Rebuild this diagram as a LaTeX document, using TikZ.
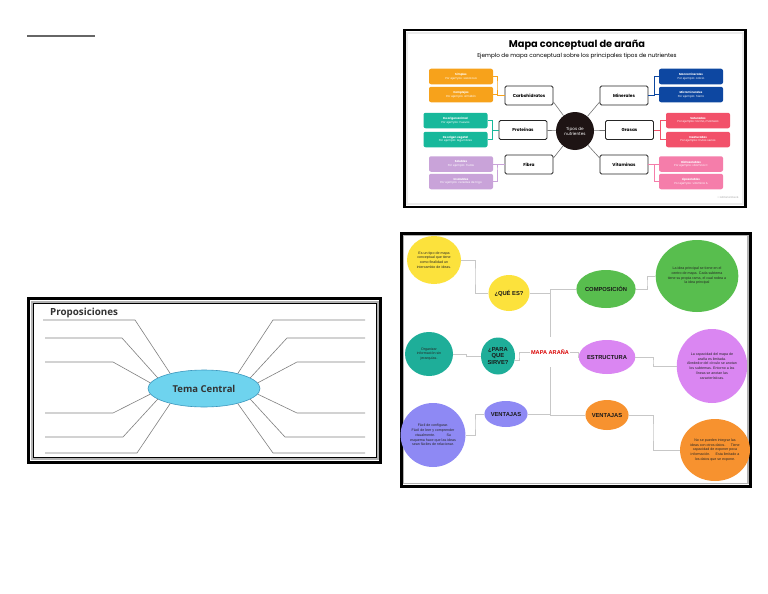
\documentclass[tikz,border=0pt]{standalone}
\usepackage{fontspec}
\setmainfont{Liberation Sans}
\newfontfamily\pop{Poppins}
\newfontfamily\opn{Open Sans}
\usetikzlibrary{shapes.geometric,calc}
\definecolor{orN}{HTML}{F7A21B}
\definecolor{teN}{HTML}{17B89B}
\definecolor{liN}{HTML}{C9A3D9}
\definecolor{blN}{HTML}{0D47A1}
\definecolor{reN}{HTML}{F2516A}
\definecolor{piN}{HTML}{F57DAA}
\definecolor{dkN}{HTML}{1E1414}
\definecolor{yelS}{HTML}{FCE23C}
\definecolor{grnS}{HTML}{58BE4E}
\definecolor{teaS}{HTML}{1EAE99}
\definecolor{purS}{HTML}{DA86F2}
\definecolor{vioS}{HTML}{8E89F4}
\definecolor{orgS}{HTML}{F7922F}
\definecolor{cyT}{HTML}{6ED3EE}
\definecolor{cyB}{HTML}{3B97BE}
\tikzset{
  nbox/.style={draw=black!85, line width=0.9pt, rounded corners=1.5pt, fill=white, minimum width=48pt, minimum height=19pt, inner sep=0pt, font=\pop\bfseries\fontsize{4.3}{5}\selectfont},
  sbox/.style={rounded corners=2pt, minimum width=64pt, minimum height=15.5pt, inner sep=0pt, text=white, align=center, font=\pop\fontsize{2.8}{3.5}\selectfont},
  nline/.style={draw=black!55, line width=0.6pt},
  brk/.style={line width=0.5pt},
  blob/.style={ellipse, inner sep=0pt, align=center, text=black!85},
  btitle/.style={font=\bfseries\fontsize{5.8}{6.8}\selectfont, text=black!90},
  btext/.style={font=\fontsize{3.6}{4.7}\selectfont},
  conn/.style={draw=black!22, line width=0.8pt},
  pline/.style={draw=black!50, line width=0.6pt}
}
\begin{document}
\begin{tikzpicture}[x=1pt,y=-1pt]
\useasboundingbox (0,0) rectangle (768,594);
\fill[white] (0,0) rectangle (768,594);

% short line top-left
\coordinate (t1) at (27,36);
\coordinate (t2) at (95,36);
\draw[black!60, line width=1.3pt] (t1) -- (t2);

% ================= nutrient panel =================
\draw[black!8, line width=2pt] (407,33) rectangle (743,204);
\draw[black, line width=2.5pt] (404.5,30) rectangle (745.5,207);
\node (ttl) at (577,45) {\pop\bfseries\fontsize{9.8}{11}\selectfont Mapa conceptual de araña};
\node (sub) at (577,56.5) {\pop\fontsize{5.7}{7}\selectfont Ejemplo de mapa conceptual sobre los principales tipos de nutrientes};

\node[circle, fill=dkN, minimum size=38pt, inner sep=0pt, text=white, align=center, font=\pop\fontsize{4.2}{5}\selectfont] (tipos) at (575,131) {Tipos de\\nutrientes};

\node[nbox] (carb) at (529,95.5) {Carbohidratos};
\node[nbox] (prot) at (523,130) {Proteínas};
\node[nbox] (fibra) at (529,164.5) {Fibra};
\node[nbox] (mine) at (624,95.5) {Minerales};
\node[nbox] (gras) at (629.5,130) {Grasas};
\node[nbox] (vita) at (624,164.5) {Vitaminas};

\draw[nline] (carb.-15) -- (tipos);
\draw[nline] (prot) -- (tipos);
\draw[nline] (fibra.15) -- (tipos);
\draw[nline] (mine.195) -- (tipos);
\draw[nline] (gras) -- (tipos);
\draw[nline] (vita.165) -- (tipos);

\node[sbox, fill=orN] (simp) at (461,76.5) {\textbf{Simples}\\Por ejemplo: sacarosa};
\node[sbox, fill=orN] (comp) at (461,94.5) {\textbf{Complejos}\\Por ejemplo: almidón};
\node[sbox, fill=teN] (anim) at (455.5,120.5) {\textbf{De origen animal}\\Por ejemplo: huevos};
\node[sbox, fill=teN] (vege) at (455.5,139.5) {\textbf{De origen vegetal}\\Por ejemplo: legumbres};
\node[sbox, fill=liN] (solu) at (461,164) {\textbf{Solubles}\\Por ejemplo: frutas};
\node[sbox, fill=liN] (inso) at (461,181.5) {\textbf{Insolubles}\\Por ejemplo: cereales de trigo};
\node[sbox, fill=blN] (macr) at (691,76.5) {\textbf{Macrominerales}\\Por ejemplo: calcio};
\node[sbox, fill=blN] (micr) at (691,94.5) {\textbf{Microminerales}\\Por ejemplo: hierro};
\node[sbox, fill=reN] (satu) at (698,120.5) {\textbf{Saturadas}\\Por ejemplo: tocino, manteca};
\node[sbox, fill=reN] (insa) at (698,139.5) {\textbf{Insaturadas}\\Por ejemplo: frutos secos};
\node[sbox, fill=piN] (hidr) at (691,164) {\textbf{Hidrosolubles}\\Por ejemplo: vitamina C};
\node[sbox, fill=piN] (lipo) at (691,181.5) {\textbf{Liposolubles}\\Por ejemplo: vitamina A};

\coordinate (b1) at (497,85);
\coordinate (b2) at (492.5,130);
\coordinate (b3) at (497,170);
\coordinate (b4) at (654.5,85);
\coordinate (b5) at (660.5,130);
\coordinate (b6) at (654.5,170);
\draw[brk, orN] (simp.east) -| (b1) |- (carb.west);
\draw[brk, orN] (comp.east) -- (comp.east -| b1);
\draw[brk, teN] (anim.east) -| (b2) |- (prot.west);
\draw[brk, teN] (vege.east) -| (b2);
\draw[brk, liN] (solu.east) -| (b3) |- (fibra.west);
\draw[brk, liN] (inso.east) -| (b3);
\draw[brk, blN] (macr.west) -| (b4) |- (mine.east);
\draw[brk, blN] (micr.west) -- (micr.west -| b4);
\draw[brk, reN] (satu.west) -| (b5) |- (gras.east);
\draw[brk, reN] (insa.west) -| (b5);
\draw[brk, piN] (hidr.west) -| (b6) |- (vita.east);
\draw[brk, piN] (lipo.west) -| (b6);

\node[text=black!35, font=\pop\fontsize{2.6}{3}\selectfont] (cpy) at (728,197) {© Editorial Etecé};

% ================= proposiciones panel =================
\draw[black, line width=3pt] (28.5,298.5) rectangle (380.5,462);
\draw[black!30, line width=2pt] (31.5,301.5) rectangle (377.5,459);
\draw[black, line width=0.7pt] (33,303) rectangle (376,457.5);

\node[anchor=west, inner sep=0pt, font=\opn\bfseries\fontsize{9.8}{11}\selectfont, text=black!80] (prop) at (50,313) {Proposiciones};
\node[ellipse, fill=cyT, draw=cyB, line width=0.6pt, minimum width=112pt, minimum height=37pt, inner sep=0pt, font=\opn\bfseries\fontsize{9.5}{11}\selectfont, text=black!80] (tc) at (204,388.5) {Tema Central};

\coordinate (la1) at (43,320);  \coordinate (lb1) at (135,320);
\coordinate (la2) at (45,338);  \coordinate (lb2) at (122,338);
\coordinate (la3) at (45,362);  \coordinate (lb3) at (113,362);
\coordinate (la4) at (45,413);  \coordinate (lb4) at (113,413);
\coordinate (la5) at (45,437);  \coordinate (lb5) at (123,437);
\coordinate (la6) at (45,453);  \coordinate (lb6) at (137,453);
\coordinate (ra1) at (365,320); \coordinate (rb1) at (273,320);
\coordinate (ra2) at (365,338); \coordinate (rb2) at (287,338);
\coordinate (ra3) at (365,362); \coordinate (rb3) at (297,362);
\coordinate (ra4) at (365,413); \coordinate (rb4) at (297,413);
\coordinate (ra5) at (365,437); \coordinate (rb5) at (285,437);
\coordinate (ra6) at (365,453); \coordinate (rb6) at (273,453);
\draw[pline] (tc.156) -- (lb1) -- (la1);
\draw[pline] (tc.167) -- (lb2) -- (la2);
\draw[pline] (tc.174) -- (lb3) -- (la3);
\draw[pline] (tc.186) -- (lb4) -- (la4);
\draw[pline] (tc.193) -- (lb5) -- (la5);
\draw[pline] (tc.204) -- (lb6) -- (la6);
\draw[pline] (tc.24) -- (rb1) -- (ra1);
\draw[pline] (tc.13) -- (rb2) -- (ra2);
\draw[pline] (tc.6) -- (rb3) -- (ra3);
\draw[pline] (tc.-6) -- (rb4) -- (ra4);
\draw[pline] (tc.-13) -- (rb5) -- (ra5);
\draw[pline] (tc.-24) -- (rb6) -- (ra6);

% ================= spider panel =================
\draw[black!30, line width=1.5pt] (403,235) rectangle (748,483.5);
\draw[black, line width=3pt] (401,233) rectangle (750.5,486);

\node[blob, fill=yelS, minimum width=54pt, minimum height=48pt, btext] (es) at (434,260) {Es un tipo de mapa\\conceptual que tiene\\como finalidad un\\intercambio de ideas.};
\node[blob, fill=yelS, minimum width=36pt, minimum height=36pt, btitle] (que) at (509,293) {¿QUÉ ES?};
\node[blob, fill=grnS, minimum width=49pt, minimum height=38pt, btitle] (compo) at (606,289) {COMPOSICIÓN};
\node[blob, fill=grnS, minimum width=62pt, minimum height=72pt, btext] (gcirc) at (697,276) {La idea principal se tiene en el\\centro de mapa. Cada subtema\\tiene su propia rama, el cual rodea a\\la idea principal};
\node[blob, fill=teaS, minimum width=48pt, minimum height=44pt, btext] (orga) at (429,354) {Organizar\\información sin\\jerarquías.};
\node[blob, fill=teaS, minimum width=34pt, minimum height=37pt, btitle] (para) at (498,356) {¿PARA\\QUE\\SIRVE?};
\node[inner sep=1pt, text=red!85!black, font=\bfseries\fontsize{5.6}{6.5}\selectfont] (mapa) at (550,352) {MAPA ARAÑA};
\node[blob, fill=purS, minimum width=44pt, minimum height=34pt, btitle] (estr) at (607,357) {ESTRUCTURA};
\node[blob, fill=purS, minimum width=70pt, minimum height=74pt, btext] (pcirc) at (712,366) {La capacidad del mapa de\\araña es limitada.\\Alrededor del círculo se anotan\\los subtemas. Entorno a las\\líneas se anotan las\\características.};
\node[blob, fill=vioS, minimum width=40pt, minimum height=26pt, btitle] (vl) at (506,414) {VENTAJAS};
\node[blob, fill=vioS, minimum width=58pt, minimum height=64pt, btext] (bcirc) at (433,435) {Fácil de configurar.\\Fácil de leer y comprender\\visualmente.\hspace{10pt} Su\\esquema hace que las ideas\\sean fáciles de relacionar.};
\node[blob, fill=orgS, minimum width=37pt, minimum height=30pt, btitle] (vo) at (607,415) {VENTAJAS};
\node[blob, fill=orgS, minimum width=62pt, minimum height=62pt, btext] (ocirc) at (715,450) {No se pueden integrar las\\ideas con otros datos.\hspace{4pt} Tiene\\capacidad de exponer poca\\información.\hspace{4pt} Esta limitado a\\los datos que se expone.};

\coordinate (c1) at (475,276);
\coordinate (c2) at (466,357);
\coordinate (c3) at (519,356);
\coordinate (c4) at (578,354);
\coordinate (c5) at (647,283);
\coordinate (c6) at (653,362);
\coordinate (c7) at (653,432);
\coordinate (c8) at (475,424);
\coordinate (vg1) at (550,337);
\coordinate (vg2) at (550,367);
\draw[conn] (es.east) -| (c1) |- (que.west);
\draw[conn] (que.east) -- (que.east -| vg1);
\draw[conn] (compo.west) -| (vg1);
\draw[conn] (vo.west) -| (vg2);
\draw[conn] (vl.east) -- (vl.east -| vg2);
\draw[conn] (orga.east) -| (c2) |- (para.west);
\draw[conn] (para.-15) -| (c3) |- (mapa.west);
\draw[conn] (mapa.east) -| (c4) |- (estr.west);
\draw[conn] (compo.east) -| (c5) |- (gcirc.west);
\draw[conn] (estr.east) -| (c6) |- (pcirc.west);
\draw[conn] (vo.east) -| (c7) |- (ocirc.west);
\draw[conn] (vl.west) -| (c8) |- (bcirc.east);
\end{tikzpicture}
\end{document}
